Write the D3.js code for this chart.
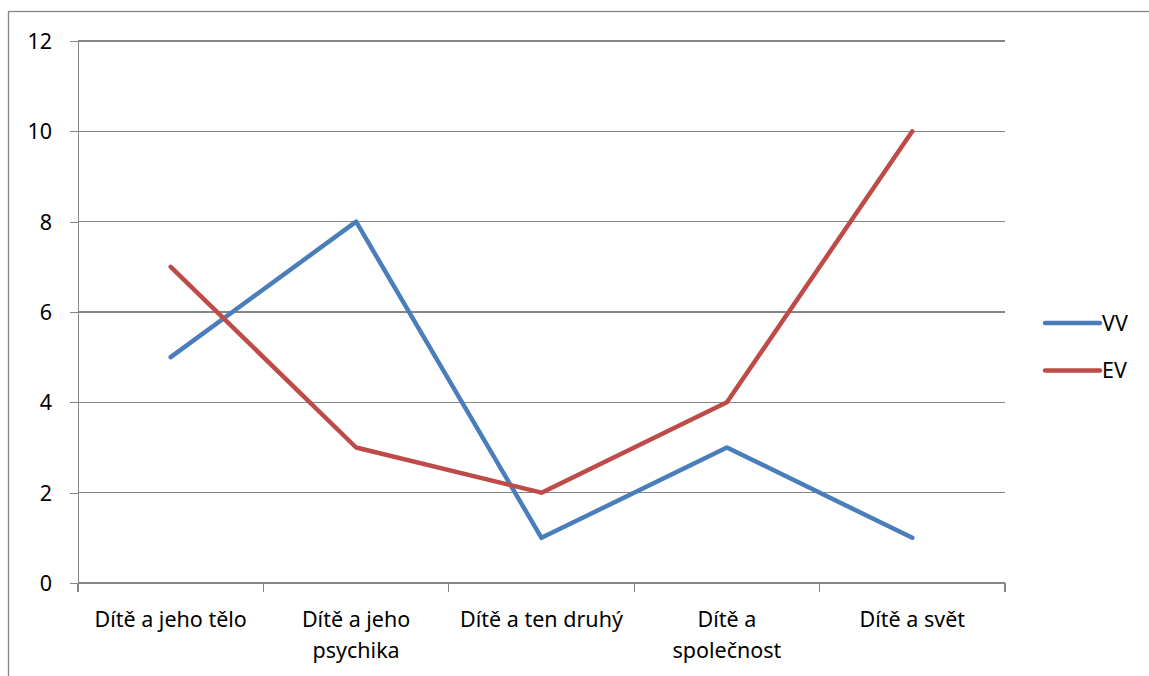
<html>
<head>
    <meta charset="utf-8">
    <title>VV / EV</title>
    <style>
        body {
            padding: 0;
            margin: 0;
            background: white;
            font-family: "Noto Sans", "Open Sans", sans-serif;
        }

        .grid line, .axis path, .axis line {
            stroke: #868686;
            stroke-width: 1.3;
            shape-rendering: crispEdges;
        }

        .series {
            fill: none;
            stroke-width: 4.5;
            stroke-linejoin: round;
            stroke-linecap: round;
        }
    </style>
</head>
<body>
    <div id="chart"></div>

    <script src="https://d3js.org/d3.v7.min.js"></script>
    <script>
        var categories = ["Dítě a jeho tělo", "Dítě a jeho psychika", "Dítě a ten druhý", "Dítě a společnost", "Dítě a svět"];
        var seriesNames = ["VV", "EV"];
        var vv = [5, 8, 1, 3, 1];
        var ev = [7, 3, 2, 4, 10];
        var colors = ["#4A7EBB", "#BE4B48"];
        var yTicks = [0, 2, 4, 6, 8, 10, 12];

        var width = 1149,
            height = 676,
            fontSize = 21.5,
            plot = { left: 78, right: 1005, top: 41, bottom: 583 };

        var svg = d3.select("#chart")
            .append("svg")
            .attr("width", width)
            .attr("height", height)
            .attr("font-family", "'Noto Sans', 'Open Sans', sans-serif");

        // outer chart frame
        svg.append("rect")
            .attr("x", 8.5)
            .attr("y", 11.5)
            .attr("width", width + 20)
            .attr("height", height + 20)
            .attr("fill", "none")
            .attr("stroke", "#868686")
            .attr("stroke-width", 1.3);

        var x = d3.scaleBand()
            .domain(categories)
            .range([plot.left, plot.right])
            .padding(0);

        var y = d3.scaleLinear()
            .domain([0, 12])
            .range([plot.bottom, plot.top]);

        // horizontal grid lines
        svg.append("g")
            .attr("class", "grid")
            .selectAll("line")
            .data(yTicks.slice(1))
            .enter()
            .append("line")
            .attr("x1", plot.left)
            .attr("x2", plot.right)
            .attr("y1", d => y(d))
            .attr("y2", d => y(d));

        // y axis
        var yAxis = svg.append("g")
            .attr("class", "axis")
            .attr("transform", "translate(" + plot.left + ",0)")
            .call(d3.axisLeft(y).tickValues(yTicks).tickSize(8).tickPadding(18).tickSizeOuter(0));
        yAxis.attr("font-size", fontSize).attr("font-family", null);
        yAxis.selectAll("text").attr("dy", "0.35em").attr("fill", "#000");

        // x axis, ticks at band edges
        var xAxis = svg.append("g")
            .attr("class", "axis")
            .attr("font-size", fontSize)
            .attr("transform", "translate(0," + plot.bottom + ")");
        xAxis.append("line")
            .attr("x1", plot.left)
            .attr("x2", plot.right);
        var edges = categories.map(c => x(c)).concat([plot.right]);
        xAxis.selectAll(".edge")
            .data(edges)
            .enter()
            .append("line")
            .attr("class", "edge")
            .attr("x1", d => d)
            .attr("x2", d => d)
            .attr("y1", 0)
            .attr("y2", 9);

        var labels = xAxis.selectAll(".cat")
            .data(categories)
            .enter()
            .append("text")
            .attr("class", "cat")
            .attr("text-anchor", "middle")
            .attr("x", d => x(d) + x.bandwidth() / 2)
            .attr("y", 44);

        // wrap labels wider than the band (Excel leaves some margin)
        labels.each(function (d) {
            var text = d3.select(this),
                words = d.split(" "),
                line = [],
                tspan = text.append("tspan").attr("x", text.attr("x")).attr("dy", 0);
            words.forEach(function (w) {
                line.push(w);
                tspan.text(line.join(" "));
                if (tspan.node().getComputedTextLength() > x.bandwidth() - 19 && line.length > 1) {
                    line.pop();
                    tspan.text(line.join(" "));
                    line = [w];
                    tspan = text.append("tspan").attr("x", text.attr("x")).attr("dy", 31).text(w);
                }
            });
        });

        var line = d3.line()
            .x((d, i) => x(categories[i]) + x.bandwidth() / 2)
            .y(d => y(d));

        [vv, ev].forEach(function (s, i) {
            svg.append("path")
                .datum(s)
                .attr("class", "series")
                .attr("stroke", colors[i])
                .attr("d", line);
        });

        // legend
        var legend = svg.append("g")
            .attr("font-size", fontSize)
            .selectAll("g")
            .data(seriesNames)
            .enter()
            .append("g")
            .attr("transform", (d, i) => "translate(1045," + (323 + i * 47.5) + ")");
        legend.append("line")
            .attr("x1", 0)
            .attr("x2", 55)
            .attr("stroke", (d, i) => colors[i])
            .attr("stroke-width", 4.5)
            .attr("stroke-linecap", "round");
        legend.append("text")
            .attr("x", 57)
            .attr("dy", "0.35em")
            .text(d => d);
    </script>
</body>
</html>
